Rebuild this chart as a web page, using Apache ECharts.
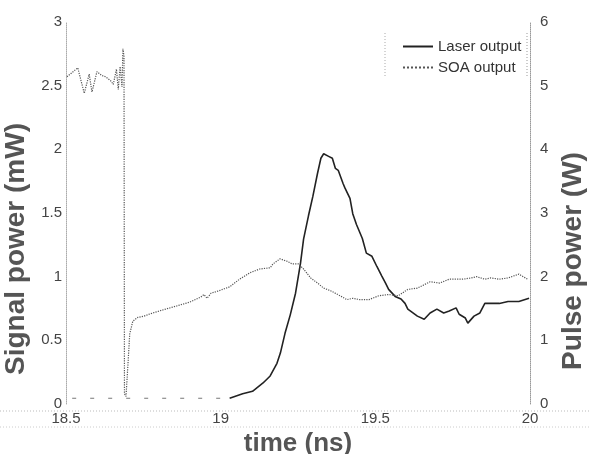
<!DOCTYPE html>
<html>
<head>
<meta charset="utf-8">
<style>
  html, body { margin: 0; height: 100%; background: #fff; }
  #chart { width: 591px; height: 454px; }
</style>
</head>
<body>
<div id="chart"></div>
<script src="https://cdn.jsdelivr.net/npm/echarts@6/dist/echarts.min.js"></script>
<script>
// SOA output, signal power (mW) on the left axis
var soaTime = [18.503, 18.538, 18.559, 18.575, 18.584, 18.600, 18.616, 18.628, 18.644, 18.653,
  18.663, 18.669, 18.675, 18.681, 18.684, 18.6875, 18.689, 18.694, 18.700, 18.706,
  18.716, 18.732, 18.752, 18.774, 18.815, 18.858, 18.900, 18.936, 18.946, 18.956,
  18.969, 18.995, 19.029, 19.061, 19.094, 19.126, 19.160, 19.169, 19.192, 19.216,
  19.231, 19.251, 19.268, 19.291, 19.313, 19.333, 19.355, 19.386, 19.408, 19.427,
  19.449, 19.480, 19.511, 19.543, 19.574, 19.605, 19.636, 19.677, 19.708, 19.739,
  19.783, 19.810, 19.827, 19.854, 19.873, 19.901, 19.929, 19.964, 19.992];
var soaPower = [2.57, 2.64, 2.44, 2.59, 2.45, 2.61, 2.58, 2.57, 2.54, 2.51,
  2.63, 2.47, 2.65, 2.49, 2.79, 2.73, 0.08, 0.06, 0.30, 0.55,
  0.65, 0.68, 0.69, 0.71, 0.74, 0.77, 0.80, 0.84, 0.86, 0.83,
  0.87, 0.89, 0.92, 0.98, 1.03, 1.06, 1.07, 1.10, 1.14, 1.12,
  1.10, 1.10, 1.06, 0.99, 0.95, 0.91, 0.89, 0.85, 0.82, 0.83,
  0.82, 0.82, 0.85, 0.86, 0.85, 0.90, 0.91, 0.96, 0.95, 0.98,
  0.98, 0.99, 1.00, 0.98, 0.99, 0.98, 0.99, 1.02, 0.98];

// Laser output, pulse power (W) on the right axis
var laserTime = [19.029, 19.071, 19.103, 19.137, 19.160, 19.182, 19.193, 19.208, 19.225, 19.242,
  19.258, 19.268, 19.284, 19.298, 19.313, 19.324, 19.333, 19.349, 19.361, 19.371,
  19.380, 19.396, 19.402, 19.418, 19.427, 19.439, 19.458, 19.471, 19.489, 19.505,
  19.521, 19.533, 19.543, 19.564, 19.583, 19.596, 19.605, 19.636, 19.658, 19.677,
  19.699, 19.721, 19.739, 19.761, 19.771, 19.791, 19.799, 19.819, 19.838, 19.854,
  19.873, 19.901, 19.929, 19.964, 19.997];
var laserPower = [0.09, 0.16, 0.20, 0.33, 0.44, 0.64, 0.80, 1.11, 1.40, 1.74,
  2.21, 2.59, 2.96, 3.26, 3.62, 3.86, 3.93, 3.89, 3.86, 3.70,
  3.67, 3.46, 3.39, 3.23, 2.99, 2.82, 2.60, 2.37, 2.32, 2.16,
  2.01, 1.90, 1.80, 1.69, 1.65, 1.58, 1.49, 1.38, 1.33, 1.43,
  1.49, 1.43, 1.46, 1.51, 1.41, 1.35, 1.27, 1.38, 1.43, 1.58,
  1.58, 1.58, 1.61, 1.61, 1.66];
// faint baseline of the laser trace before the pulse
var laserBaseTime = [18.52, 19.029];
var laserBasePower = [0.09, 0.09];

var xTicks = [18.5, 19, 19.5, 20];

function pairs(xs, ys) {
  return xs.map(function (x, i) { return [x, ys[i]]; });
}

var chart = echarts.init(document.getElementById('chart'), null, { renderer: 'canvas' });
var font = 'Liberation Sans, Arial, sans-serif';

var option = {
  backgroundColor: '#fff',
  animation: false,
  grid: { left: 66, right: 61, top: 22, bottom: 50, outerBoundsMode: 'none' },
  legend: {
    orient: 'vertical',
    left: 397,
    top: 34,
    itemWidth: 30,
    itemHeight: 10,
    itemGap: 6,
    itemStyle: { opacity: 0 },
    data: ['Laser output', 'SOA output'],
    textStyle: { fontFamily: font, fontSize: 15, color: '#333' }
  },
  xAxis: {
    type: 'value',
    min: 18.5,
    max: 20,
    interval: 0.5,
    name: 'time (ns)',
    nameLocation: 'middle',
    nameGap: 22,
    nameTextStyle: { fontFamily: font, fontSize: 26, fontWeight: 'bold', color: '#555' },
    axisLine: { show: false },
    axisTick: { show: false },
    splitLine: { show: false },
    axisLabel: {
      margin: 7,
      fontFamily: font, fontSize: 15, color: '#444',
      formatter: function (v) { return xTicks.indexOf(v) >= 0 ? String(v) : ''; }
    }
  },
  yAxis: [
    {
      type: 'value',
      min: 0,
      max: 3,
      interval: 0.5,
      name: 'Signal power (mW)',
      nameLocation: 'middle',
      nameRotate: 90,
      nameGap: 28,
      // shifted below the middle of the axis, like the original
      nameTextStyle: { fontFamily: font, fontSize: 28, fontWeight: 'bold', color: '#555', padding: [0, 72, 0, 0] },
      axisLine: { show: true, lineStyle: { color: '#aaa', type: 'dotted', width: 1 } },
      axisTick: { show: false },
      splitLine: { show: false },
      axisLabel: { margin: 4, fontFamily: font, fontSize: 15, color: '#444' }
    },
    {
      type: 'value',
      min: 0,
      max: 6,
      interval: 1,
      position: 'right',
      name: 'Pulse power (W)',
      nameLocation: 'middle',
      nameRotate: 90,
      nameGap: 28,
      nameTextStyle: { fontFamily: font, fontSize: 28, fontWeight: 'bold', color: '#555', padding: [0, 96, 0, 0] },
      axisLine: { show: true, lineStyle: { color: '#999', type: 'dotted', width: 1 } },
      axisTick: { show: false },
      splitLine: { show: false },
      axisLabel: { margin: 10, fontFamily: font, fontSize: 15, color: '#444' }
    }
  ],
  series: [
    {
      name: 'Laser output',
      type: 'line',
      yAxisIndex: 1,
      symbol: 'none',
      data: pairs(laserTime, laserPower),
      lineStyle: { color: '#222', width: 1.6, type: 'solid' },
      itemStyle: { color: '#222' }
    },
    {
      name: 'SOA output',
      type: 'line',
      yAxisIndex: 0,
      symbol: 'none',
      data: pairs(soaTime, soaPower),
      lineStyle: { color: '#555', width: 1.2, type: 'dotted' },
      itemStyle: { color: '#555' }
    },
    {
      name: 'Laser output',
      type: 'line',
      yAxisIndex: 1,
      symbol: 'none',
      data: pairs(laserBaseTime, laserBasePower),
      lineStyle: { color: '#777', width: 1.2, type: [4, 14] },
      itemStyle: { color: '#222' }
    }
  ],
  graphic: [
    { type: 'line', shape: { x1: 0, y1: 411, x2: 591, y2: 411 }, style: { stroke: '#bbb', lineWidth: 1, lineDash: [1, 2] }, silent: true },
    { type: 'line', shape: { x1: 0, y1: 427, x2: 591, y2: 427 }, style: { stroke: '#ccc', lineWidth: 1, lineDash: [1, 2] }, silent: true },
    { type: 'line', shape: { x1: 385, y1: 33, x2: 385, y2: 76 }, style: { stroke: '#aaa', lineWidth: 1, lineDash: [1, 2] }, silent: true },
    { type: 'line', shape: { x1: 527, y1: 33, x2: 527, y2: 78 }, style: { stroke: '#999', lineWidth: 1, lineDash: [1, 2] }, silent: true }
  ]
};

chart.setOption(option);
window.addEventListener('resize', chart.resize);
</script>
</body>
</html>
